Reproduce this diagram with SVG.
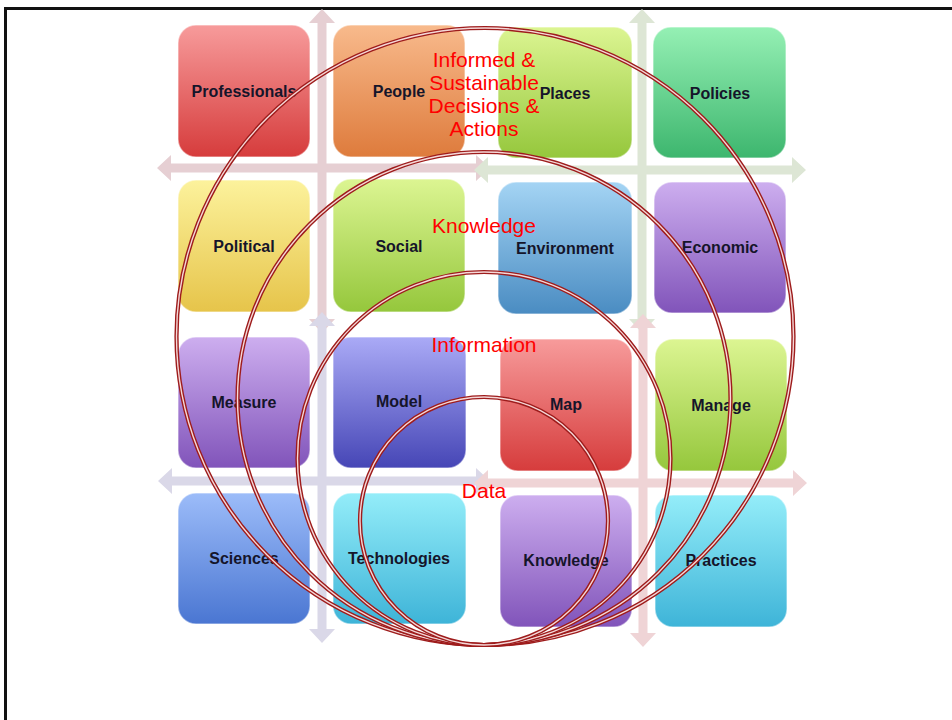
<svg xmlns="http://www.w3.org/2000/svg" width="952" height="720" viewBox="0 0 952 720">
<defs>
<linearGradient id="gRed" x1="0" y1="0" x2="0" y2="1"><stop offset="0" stop-color="#f79b9b"/><stop offset="1" stop-color="#d63c3c"/></linearGradient>
<linearGradient id="gOrange" x1="0" y1="0" x2="0" y2="1"><stop offset="0" stop-color="#f8ba8c"/><stop offset="1" stop-color="#de7b3c"/></linearGradient>
<linearGradient id="gLime" x1="0" y1="0" x2="0" y2="1"><stop offset="0" stop-color="#dcf592"/><stop offset="1" stop-color="#95c73c"/></linearGradient>
<linearGradient id="gGreen" x1="0" y1="0" x2="0" y2="1"><stop offset="0" stop-color="#95f0b4"/><stop offset="1" stop-color="#3db66e"/></linearGradient>
<linearGradient id="gYellow" x1="0" y1="0" x2="0" y2="1"><stop offset="0" stop-color="#fcf29c"/><stop offset="1" stop-color="#e6c44a"/></linearGradient>
<linearGradient id="gBlue" x1="0" y1="0" x2="0" y2="1"><stop offset="0" stop-color="#a4d4f4"/><stop offset="1" stop-color="#4a8cc2"/></linearGradient>
<linearGradient id="gPurple" x1="0" y1="0" x2="0" y2="1"><stop offset="0" stop-color="#cdaeef"/><stop offset="1" stop-color="#8154ba"/></linearGradient>
<linearGradient id="gIndigo" x1="0" y1="0" x2="0" y2="1"><stop offset="0" stop-color="#aaaaf6"/><stop offset="1" stop-color="#4646b6"/></linearGradient>
<linearGradient id="gSky" x1="0" y1="0" x2="0" y2="1"><stop offset="0" stop-color="#9cbcf9"/><stop offset="1" stop-color="#4a76d2"/></linearGradient>
<linearGradient id="gCyan" x1="0" y1="0" x2="0" y2="1"><stop offset="0" stop-color="#94edf9"/><stop offset="1" stop-color="#3eb4d8"/></linearGradient>
</defs>
<style>
.box{stroke:#ffffff;stroke-opacity:0.45;stroke-width:1.5}
.lbl{font-family:"Liberation Sans",Arial,sans-serif;font-size:16px;font-weight:bold;fill:#15152a;text-anchor:middle}
.red{font-family:"Liberation Sans",Arial,sans-serif;font-size:21px;fill:#ff0000;text-anchor:middle}
.ringA{fill:none;stroke:#9e1c1c;stroke-width:4.2}
.ringB{fill:none;stroke:#f5d8d8;stroke-width:1.4}
</style>
<rect x="0" y="0" width="952" height="720" fill="#ffffff"/>
<rect x="5.5" y="8.5" width="960" height="730" fill="none" stroke="#111111" stroke-width="3"/>
<g id="connectors">
<polygon fill="#e6cfd3" points="322,9 335,23 326.5,23 326.5,319 335,319 322,333 309,319 317.5,319 317.5,23 309,23"/>
<polygon fill="#e6cfd3" points="157,168 171,155 171,163.5 476,163.5 476,155 490,168 476,181 476,172.5 171,172.5 171,181"/>
<polygon fill="#dde6d5" points="642,9 655,23 646.5,23 646.5,319 655,319 642,333 629,319 637.5,319 637.5,23 629,23"/>
<polygon fill="#dde6d5" points="474,170 488,157 488,165.5 792,165.5 792,157 806,170 792,183 792,174.5 488,174.5 488,183"/>
<polygon fill="#dad8e8" points="322,312 335,326 326.5,326 326.5,629 335,629 322,643 309,629 317.5,629 317.5,326 309,326"/>
<polygon fill="#dad8e8" points="158,481 172,468 172,476.5 476,476.5 476,468 490,481 476,494 476,485.5 172,485.5 172,494"/>
<polygon fill="#efd4d6" points="643,314 656,328 647.5,328 647.5,633 656,633 643,647 630,633 638.5,633 638.5,328 630,328"/>
<polygon fill="#efd4d6" points="474,483 488,470 488,478.5 793,478.5 793,470 807,483 793,496 793,487.5 488,487.5 488,496"/>
</g>
<g id="professionals"><rect class="box" x="178" y="25" width="132" height="132" rx="18" fill="url(#gRed)"/><text class="lbl" x="244" y="97">Professionals</text></g>
<g id="people"><rect class="box" x="333" y="25" width="132" height="132" rx="18" fill="url(#gOrange)"/><text class="lbl" x="399" y="97">People</text></g>
<g id="places"><rect class="box" x="498" y="27" width="134" height="131" rx="18" fill="url(#gLime)"/><text class="lbl" x="565" y="99">Places</text></g>
<g id="policies"><rect class="box" x="653" y="27" width="133" height="131" rx="18" fill="url(#gGreen)"/><text class="lbl" x="720" y="99">Policies</text></g>
<g id="political"><rect class="box" x="178" y="180" width="132" height="132" rx="18" fill="url(#gYellow)"/><text class="lbl" x="244" y="252">Political</text></g>
<g id="social"><rect class="box" x="333" y="179" width="132" height="133" rx="18" fill="url(#gLime)"/><text class="lbl" x="399" y="252">Social</text></g>
<g id="environment"><rect class="box" x="498" y="182" width="134" height="132" rx="18" fill="url(#gBlue)"/><text class="lbl" x="565" y="254">Environment</text></g>
<g id="economic"><rect class="box" x="654" y="182" width="132" height="131" rx="18" fill="url(#gPurple)"/><text class="lbl" x="720" y="253">Economic</text></g>
<g id="measure"><rect class="box" x="178" y="337" width="132" height="131" rx="18" fill="url(#gPurple)"/><text class="lbl" x="244" y="408">Measure</text></g>
<g id="model"><rect class="box" x="333" y="337" width="133" height="131" rx="18" fill="url(#gIndigo)"/><text class="lbl" x="399" y="407">Model</text></g>
<g id="map"><rect class="box" x="500" y="339" width="132" height="132" rx="18" fill="url(#gRed)"/><text class="lbl" x="566" y="410">Map</text></g>
<g id="manage"><rect class="box" x="655" y="339" width="132" height="132" rx="18" fill="url(#gLime)"/><text class="lbl" x="721" y="411">Manage</text></g>
<g id="sciences"><rect class="box" x="178" y="493" width="132" height="131" rx="18" fill="url(#gSky)"/><text class="lbl" x="244" y="564">Sciences</text></g>
<g id="technologies"><rect class="box" x="333" y="493" width="133" height="131" rx="18" fill="url(#gCyan)"/><text class="lbl" x="399" y="564">Technologies</text></g>
<g id="knowledge-box"><rect class="box" x="500" y="495" width="132" height="132" rx="18" fill="url(#gPurple)"/><text class="lbl" x="566" y="566">Knowledge</text></g>
<g id="practices"><rect class="box" x="655" y="495" width="132" height="132" rx="18" fill="url(#gCyan)"/><text class="lbl" x="721" y="566">Practices</text></g>
<g id="rings">
<circle class="ringA" cx="485" cy="336.5" r="308.5"/><circle class="ringB" cx="485" cy="336.5" r="308.5"/>
<circle class="ringA" cx="484" cy="398.5" r="246.5"/><circle class="ringB" cx="484" cy="398.5" r="246.5"/>
<circle class="ringA" cx="484" cy="458.5" r="186.5"/><circle class="ringB" cx="484" cy="458.5" r="186.5"/>
<circle class="ringA" cx="484" cy="521" r="124"/><circle class="ringB" cx="484" cy="521" r="124"/>
</g>
<g id="ring-labels">
<text class="red" x="484" y="67">Informed &amp;</text>
<text class="red" x="484" y="90">Sustainable</text>
<text class="red" x="484" y="113">Decisions &amp;</text>
<text class="red" x="484" y="136">Actions</text>
<text class="red" x="484" y="233">Knowledge</text>
<text class="red" x="484" y="352">Information</text>
<text class="red" x="484" y="498">Data</text>
</g>
</svg>
